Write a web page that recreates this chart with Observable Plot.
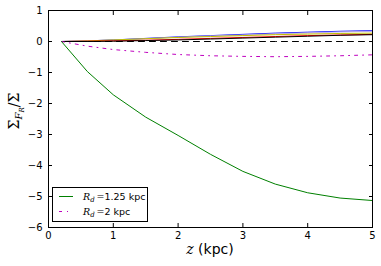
<!DOCTYPE html>
<html>
<head>
<meta charset="utf-8">
<script src="https://cdn.jsdelivr.net/npm/d3@7"></script>
<script src="https://cdn.jsdelivr.net/npm/@observablehq/plot@0.6"></script>
<style>
  html, body { margin: 0; padding: 0; background: #fff; }
  #chart svg { display: block; }
</style>
</head>
<body>
<div id="chart"></div>
<script>
// ---- data ----
const zVals = [0.2, 0.6, 1.0, 1.5, 2.0, 2.5, 3.0, 3.5, 4.0, 4.5, 5.0];
const greenVals   = [0, -0.97, -1.72, -2.44, -3.03, -3.64, -4.19, -4.60, -4.88, -5.05, -5.13];
const magentaVals = [0, -0.15, -0.26, -0.35, -0.42, -0.46, -0.48, -0.49, -0.48, -0.46, -0.43];
const blueVals    = [0, 0.02, 0.05, 0.10, 0.15, 0.19, 0.23, 0.27, 0.30, 0.33, 0.35];
const lavenderVals= [0, 0.02, 0.05, 0.09, 0.14, 0.18, 0.21, 0.25, 0.28, 0.31, 0.33];
const oliveVals   = [0, 0.02, 0.05, 0.09, 0.13, 0.16, 0.19, 0.22, 0.24, 0.26, 0.27];
const redVals     = [0, 0.01, 0.02, 0.04, 0.07, 0.10, 0.13, 0.16, 0.19, 0.21, 0.23];
const blackVals   = [0, 0.00, 0.01, 0.03, 0.05, 0.08, 0.11, 0.14, 0.17, 0.20, 0.22];
const zeroVals    = [0, 0, 0, 0, 0, 0, 0, 0, 0, 0, 0];
const xTicks = [0, 1, 2, 3, 4, 5];
const yTicks = [-6, -5, -4, -3, -2, -1, 0, 1];
const legendLabels = ["1.25 kpc", "2 kpc"];

const series = (vals) => zVals.map((z, i) => ({z, v: vals[i]}));
const minus = d => (d < 0 ? "\u2212" + Math.abs(d) : String(d));

const lineOpts = {x: "z", y: "v", strokeWidth: 1};

const plot = Plot.plot({
  width: 381,
  height: 266,
  marginLeft: 48,
  marginRight: 9,
  marginTop: 10,
  marginBottom: 39,
  style: {fontFamily: "'DejaVu Sans', sans-serif", fontSize: "10px", background: "#fff", color: "#000"},
  x: {domain: [0, 5]},
  y: {domain: [-6, 1]},
  marks: [
    Plot.line(series(blueVals), {...lineOpts, stroke: "#0000ff"}),
    Plot.line(series(lavenderVals), {...lineOpts, stroke: "#b8a8e8"}),
    Plot.line(series(oliveVals), {...lineOpts, stroke: "#bfbf00"}),
    Plot.line(series(redVals), {...lineOpts, stroke: "#ff0000"}),
    Plot.line(series(blackVals), {...lineOpts, stroke: "#000000"}),
    Plot.line(series(zeroVals), {...lineOpts, stroke: "#000000", strokeDasharray: "6,5"}),
    Plot.line(series(magentaVals), {...lineOpts, stroke: "#bf00bf", strokeDasharray: "3,5,1,5"}),
    Plot.line(series(greenVals), {...lineOpts, stroke: "#008000"}),
    Plot.frame({stroke: "#000", strokeWidth: 1}),
    Plot.axisX({ticks: xTicks, tickSize: -4, tickPadding: 8, tickFormat: minus, label: null}),
    Plot.axisX({anchor: "top", ticks: xTicks, tickSize: -4, tickFormat: () => "", label: null}),
    Plot.axisY({ticks: yTicks, tickSize: -4, tickPadding: 10, tickFormat: minus, label: null}),
    Plot.axisY({anchor: "right", ticks: yTicks, tickSize: -4, tickFormat: () => "", label: null})
  ]
});

document.getElementById("chart").appendChild(plot);

const svg = d3.select(plot);
const serif = "'DejaVu Serif', serif";

// x label
const xl = svg.append("text")
  .attr("x", 210).attr("y", 254)
  .attr("text-anchor", "middle")
  .attr("font-size", 14)
  .attr("font-family", "'DejaVu Sans', sans-serif");
xl.append("tspan").attr("font-family", serif).attr("font-style", "italic").text("z");
xl.append("tspan").text(" (kpc)");

// y label
const yl = svg.append("text")
  .attr("transform", "translate(19,111) rotate(-90)")
  .attr("text-anchor", "middle")
  .attr("font-family", serif)
  .attr("font-size", 14);
yl.append("tspan").text("\u03A3");
yl.append("tspan").attr("font-size", 10).attr("font-style", "italic").attr("dy", 3).text("F");
yl.append("tspan").attr("font-size", 7).attr("font-style", "italic").attr("dy", 2).text("R");
yl.append("tspan").attr("dy", -5).text("/");
yl.append("tspan").text("\u03A3");

// legend
const lg = svg.append("g").attr("text-anchor", "start");
lg.append("rect").attr("x", 52.5).attr("y", 187.5).attr("width", 95).attr("height", 34)
  .attr("fill", "#fff").attr("stroke", "#000").attr("stroke-width", 1);
const entries = [
  {stroke: "#008000", dash: null, label: legendLabels[0]},
  {stroke: "#bf00bf", dash: "3,5,1,5", label: legendLabels[1]}
];
entries.forEach((e, i) => {
  const cy = 196.5 + i * 15;
  const ln = lg.append("line").attr("x1", 59).attr("x2", 73).attr("y1", cy).attr("y2", cy)
    .attr("stroke", e.stroke).attr("stroke-width", 1);
  if (e.dash) ln.attr("stroke-dasharray", e.dash);
  const t = lg.append("text").attr("x", 83).attr("y", cy + 3.5)
    .attr("text-anchor", "start")
    .attr("font-size", 9.5).attr("font-family", "'DejaVu Sans', sans-serif");
  t.append("tspan").attr("font-family", serif).attr("font-style", "italic").text("R");
  t.append("tspan").attr("font-family", serif).attr("font-style", "italic").attr("font-size", 7).attr("dy", 2).text("d");
  t.append("tspan").attr("font-family", serif).attr("dy", -2).text("\u2009=");
  t.append("tspan").text(e.label);
});
</script>
</body>
</html>
